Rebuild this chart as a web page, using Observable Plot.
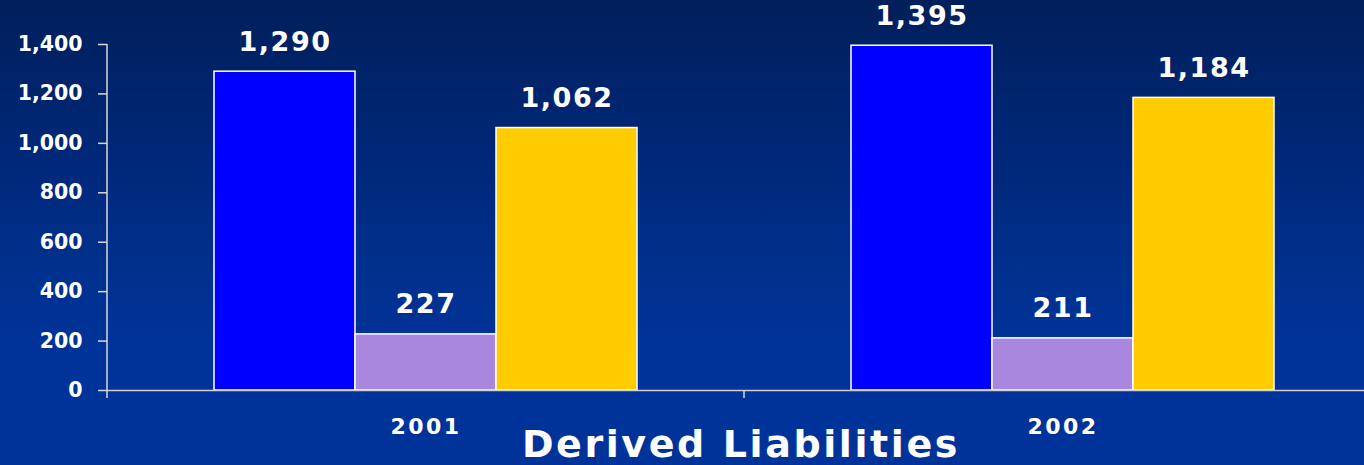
<!DOCTYPE html>
<html>
<head>
<meta charset="utf-8">
<script src="https://cdn.jsdelivr.net/npm/d3@7"></script>
<script src="https://cdn.jsdelivr.net/npm/@observablehq/plot@0.6"></script>
<style>
  html, body { margin: 0; padding: 0; width: 1364px; height: 465px; overflow: hidden; }
  body {
    background: linear-gradient(to bottom, #001f5b 0%, #00287a 35%, #00318f 60%, #003399 75%, #003399 100%);
    font-family: "DejaVu Sans", sans-serif;
    position: relative;
  }
  #chart svg { display: block; overflow: visible; max-width: none !important; width: 1381px !important; height: 440px !important; }
  #title {
    position: absolute; top: 425px; left: 0; width: 1482px;
    text-align: center; color: #ffffff; font-weight: bold;
    font-size: 38px; line-height: 38px; letter-spacing: 2.6px;
    font-family: "DejaVu Sans", sans-serif;
  }
</style>
</head>
<body>
<div id="chart"></div>
<div id="title">Derived Liabilities</div>
<script>
const years = ["2001", "2002"];
const series = ["Series 1", "Series 2", "Series 3"];
const values2001 = [1290, 227, 1062];
const values2002 = [1395, 211, 1184];
const yTicks = [0, 200, 400, 600, 800, 1000, 1200, 1400];
const colors = ["#0000ff", "#a987df", "#ffcc00"];

const rows = [];
[values2001, values2002].forEach((vals, i) => {
  vals.forEach((v, j) => rows.push({year: years[i], series: series[j], value: v}));
});

const fmt = d3.format(",");

const chart = Plot.plot({
  width: 1381,
  height: 440,
  marginLeft: 107,
  marginRight: 0,
  marginTop: 44,
  marginBottom: 50,
  style: {background: "transparent", color: "white", fontFamily: "DejaVu Sans, sans-serif"},
  fx: {domain: years, padding: 0},
  x: {domain: series, paddingInner: 0, paddingOuter: 0.743, axis: null},
  y: {domain: [0, 1400], axis: null},
  color: {domain: series, range: colors},
  marks: [
    Plot.barY(rows, {fx: "year", x: "series", y: "value", fill: "series", stroke: "white", strokeWidth: 1.5}),
    Plot.ruleY([0], {stroke: "#d0d0d0", strokeWidth: 1.5}),
    Plot.text(rows, {fx: "year", x: "series", y: "value", text: d => fmt(d.value),
      lineAnchor: "bottom", dy: -21, fill: "white", fontSize: 27, fontWeight: "bold"}),
    Plot.axisY({ticks: yTicks, tickSize: 9, tickPadding: 16, tickFormat: d => fmt(d), label: null,
      fontSize: 20.5, fontWeight: "bold", fill: "white", stroke: "#d8d8d8", strokeWidth: 1.5}),
    Plot.axisFx({anchor: "bottom", tickSize: 0, tickPadding: 28, label: null,
      fontSize: 22, fontWeight: "bold", fill: "white"})
  ]
});

document.getElementById("chart").append(chart);

// Axis line and category boundary ticks, placed through the plot's own scales
const fxS = chart.scale("fx");
const yS = chart.scale("y");
const y0 = yS.apply(0);
const yTop = yS.apply(1400);
const bounds = years.map(y => fxS.apply(y)).concat([fxS.apply(years[years.length - 1]) + fxS.bandwidth]);
const svg = d3.select(chart);
const g = svg.append("g").attr("stroke", "#d8d8d8").attr("stroke-width", 1.5);
g.append("line").attr("x1", bounds[0]).attr("x2", bounds[0]).attr("y1", yTop).attr("y2", y0 + 8);
bounds.slice(1).forEach(b => {
  g.append("line").attr("x1", b).attr("x2", b).attr("y1", y0).attr("y2", y0 + 8);
});
svg.selectAll('g[aria-label="fx-axis tick label"] text').style("letter-spacing", "2.5px");
svg.selectAll('g[aria-label="text"] text').style("letter-spacing", "1.5px");
</script>
</body>
</html>
